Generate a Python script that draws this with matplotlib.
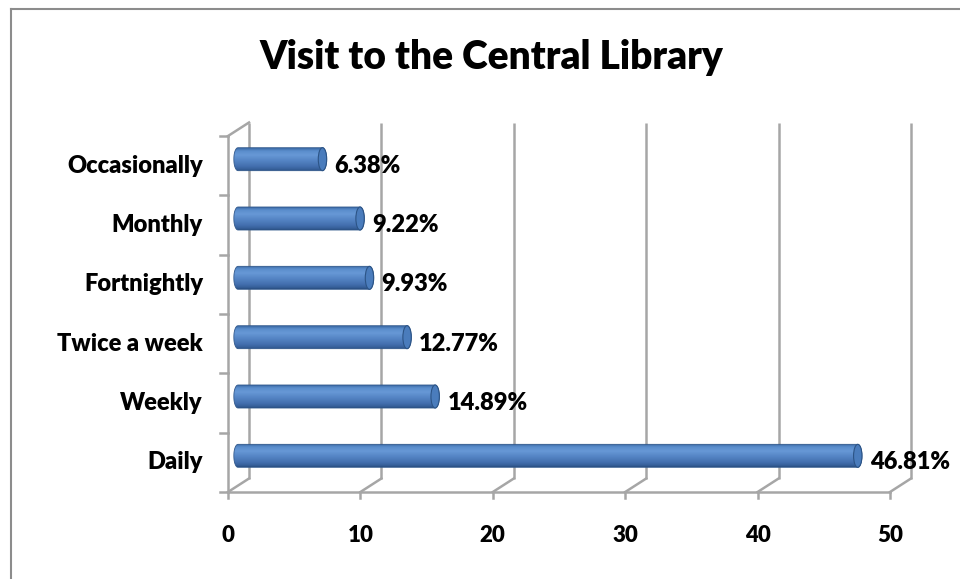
import numpy as np
import matplotlib
matplotlib.use("Agg")
import matplotlib.pyplot as plt
from matplotlib.patches import Ellipse, PathPatch
from matplotlib.path import Path
from matplotlib.lines import Line2D
from matplotlib.colors import to_rgb

# ---------------- data ----------------
categories = ["Daily", "Weekly", "Twice a week", "Fortnightly", "Monthly", "Occasionally"]
values = [46.81, 14.89, 12.77, 9.93, 9.22, 6.38]
value_labels = ["46.81%", "14.89%", "12.77%", "9.93%", "9.22%", "6.38%"]
x_ticks = [0, 10, 20, 30, 40, 50]
title = "Visit to the Central Library"

FONT = ["Lato", "DejaVu Sans"]
plt.rcParams["font.family"] = FONT
WEIGHT = "heavy"

W, H = 960, 579
fig = plt.figure(figsize=(W / 100, H / 100), dpi=100)

# front plane of the plot area (pixels)
L, R, T, B = 228, 890, 136, 492
ax = fig.add_axes([L / W, (H - B) / H, (R - L) / W, (B - T) / H])
ax.set_xlim(0, 50)
ax.set_ylim(-0.5, len(categories) - 0.5)
ax.axis("off")

sx = 50 / (R - L)                  # data units per pixel (x)
sy = len(categories) / (B - T)     # data units per pixel (y)

grid_c = "#a6a6a6"
lw = 1.8
y0, y1 = -0.5, len(categories) - 0.5
dX, dY = 21 * sx, 13.5 * sy        # depth offset of back wall

# back wall gridlines
for v in x_ticks:
    ax.add_line(Line2D([v + dX, v + dX], [y0 + dY, y1 + dY], color=grid_c, lw=lw,
                       clip_on=False, zorder=1, solid_capstyle="butt"))
    ax.add_line(Line2D([v, v + dX], [y0, y0 + dY], color=grid_c, lw=lw,
                       clip_on=False, zorder=1))
    ax.add_line(Line2D([v, v], [y0, y0 - 6 * sy], color=grid_c, lw=lw,
                       clip_on=False, zorder=1))
    ax.text(v, y0 - 43 * sy, str(v), ha="center", va="center", fontsize=16,
            fontweight=WEIGHT, color="black")

# left wall top diagonal
ax.add_line(Line2D([0, dX], [y1, y1 + dY], color=grid_c, lw=lw, clip_on=False, zorder=1))
# front axes lines
ax.add_line(Line2D([0, 50], [y0, y0], color=grid_c, lw=lw, clip_on=False, zorder=2))
ax.add_line(Line2D([0, 0], [y0, y1], color=grid_c, lw=lw, clip_on=False, zorder=2))
for k in range(len(categories) + 1):
    yy = y0 + k
    ax.add_line(Line2D([0, -8 * sx], [yy, yy], color=grid_c, lw=lw, clip_on=False, zorder=2))

# gradient for cylinders (top -> bottom)
stops = [(0.0, "#3b6aa6"), (0.12, "#5a8dcc"), (0.3, "#6798d6"), (0.55, "#5484c4"),
         (0.8, "#436fae"), (0.93, "#36609a"), (1.0, "#2a4f80")]
n = 64
tt = np.linspace(0, 1, n)
cols = np.zeros((n, 1, 3))
for ch in range(3):
    cols[:, 0, ch] = np.interp(tt, [s[0] for s in stops], [to_rgb(s[1])[ch] for s in stops])

offx, offy = 10 * sx, 6.5 * sy    # bars sit at mid depth
bh = 23 * sy
rx = 4.2 * sx

for i, (cat, v, lab) in enumerate(zip(categories, values, value_labels)):
    cy = i + offy
    xa = offx
    xb = offx + v
    th = np.linspace(np.pi / 2, 3 * np.pi / 2, 30)
    left = np.column_stack([xa + rx * np.cos(th), cy + bh / 2 * np.sin(th)])
    th2 = np.linspace(-np.pi / 2, np.pi / 2, 30)
    right = np.column_stack([xb + rx * np.cos(th2), cy + bh / 2 * np.sin(th2)])
    verts = np.vstack([left, right, left[:1]])
    path = Path(verts)
    clip = PathPatch(path, transform=ax.transData, facecolor="none", edgecolor="none")
    ax.add_patch(clip)
    im = ax.imshow(cols, extent=(xa - rx, xb + rx, cy - bh / 2, cy + bh / 2),
                   aspect="auto", zorder=3, interpolation="bilinear", origin="upper")
    im.set_clip_path(clip)
    ax.add_patch(PathPatch(path, facecolor="none", edgecolor="#30588c", lw=0.6, zorder=4,
                           clip_on=False))
    ax.add_patch(Ellipse((xb, cy), 2 * rx, bh, facecolor="#4a7cbc", edgecolor="#2c5486",
                         lw=0.8, zorder=5, clip_on=False))
    ax.text(xb + rx + 8 * sx, i, lab, ha="left", va="center", fontsize=17,
            fontweight=WEIGHT, color="black", zorder=6)
    ax.text(-25 * sx, i, cat, ha="right", va="center", fontsize=17,
            fontweight=WEIGHT, color="black")

ax.set_xlim(0, 50)
ax.set_ylim(y0, y1)

fig.text(491 / W, 1 - 57 / H, title, ha="center", va="center", fontsize=28,
         fontweight=WEIGHT, color="black")

# outer chart border (partially visible)
fig.add_artist(Line2D([11 / W, 11 / W], [0, 1 - 9 / H], transform=fig.transFigure,
                      color="#8c8c8c", lw=1.5))
fig.add_artist(Line2D([11 / W, 1], [1 - 9 / H, 1 - 9 / H], transform=fig.transFigure,
                      color="#8c8c8c", lw=1.5))

fig.savefig("out.png", dpi=100, facecolor="white")
